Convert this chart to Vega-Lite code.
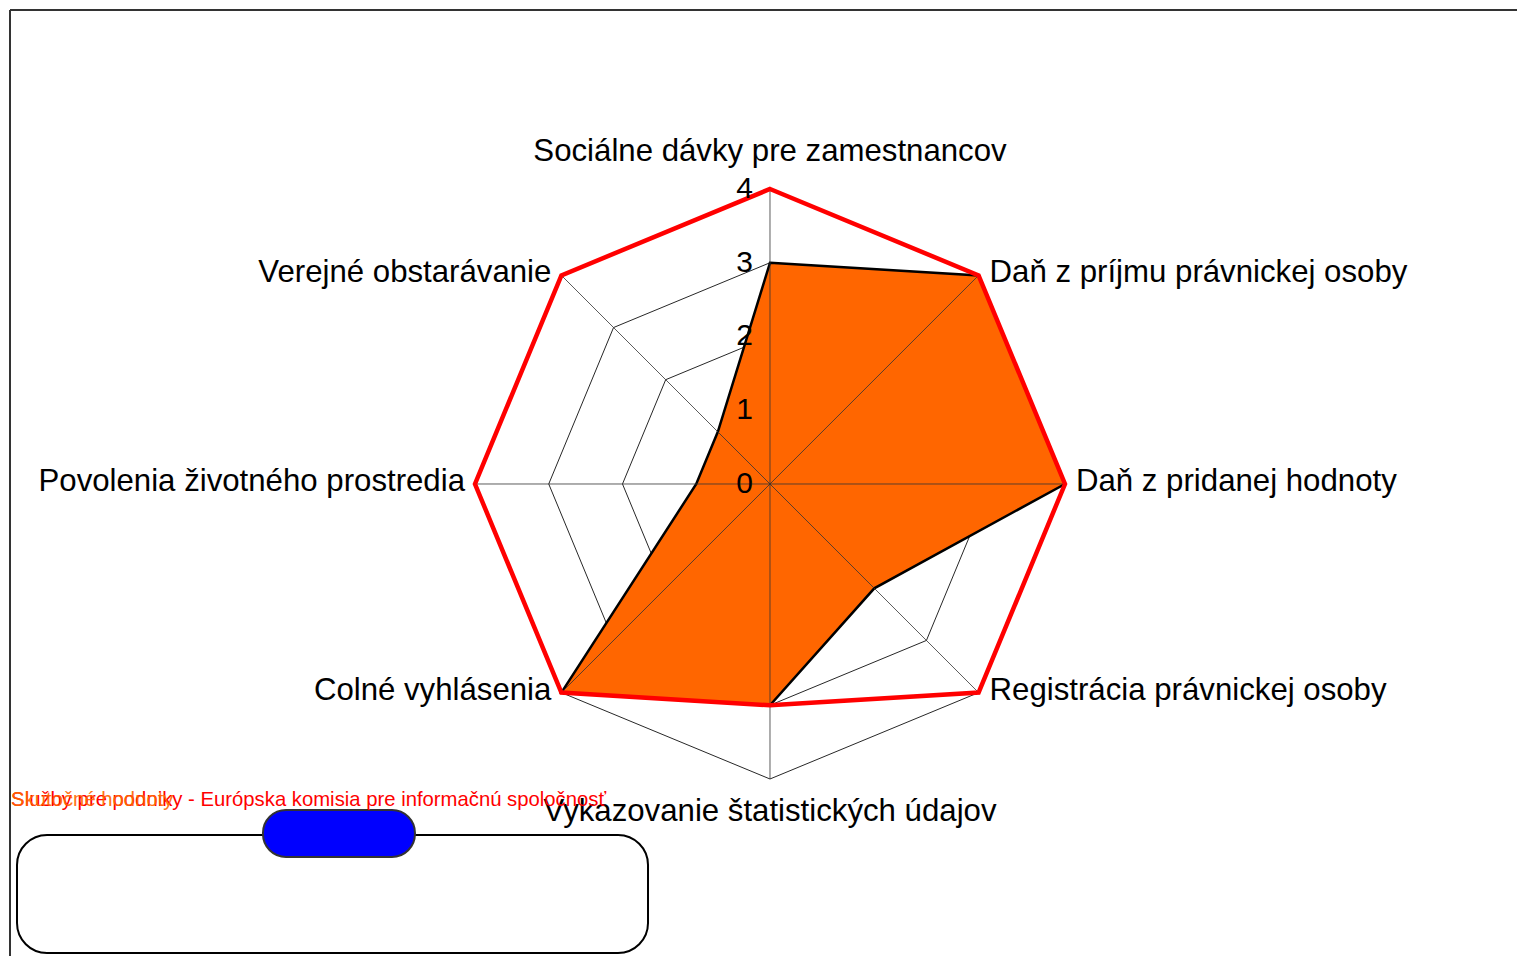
{
  "$schema": "https://vega.github.io/schema/vega-lite/v6.json",
  "width": 1507,
  "height": 946,
  "autosize": "none",
  "padding": {"left": 10, "top": 10, "right": 0, "bottom": 0},
  "background": "white",
  "config": {"view": {"stroke": null}, "font": "Liberation Sans"},
  "datasets": {
    "kategorie": [
      {"kategoria": "Sociálne dávky pre zamestnancov", "poradie": 0, "skutocnost": 3, "ciel": 4},
      {"kategoria": "Daň z príjmu právnickej osoby", "poradie": 1, "skutocnost": 4, "ciel": 4},
      {"kategoria": "Daň z pridanej hodnoty", "poradie": 2, "skutocnost": 4, "ciel": 4},
      {"kategoria": "Registrácia právnickej osoby", "poradie": 3, "skutocnost": 2, "ciel": 4},
      {"kategoria": "Vykazovanie štatistických údajov", "poradie": 4, "skutocnost": 3, "ciel": 3},
      {"kategoria": "Colné vyhlásenia", "poradie": 5, "skutocnost": 4, "ciel": 4},
      {"kategoria": "Povolenia životného prostredia", "poradie": 6, "skutocnost": 1, "ciel": 4},
      {"kategoria": "Verejné obstarávanie", "poradie": 7, "skutocnost": 1, "ciel": 4}
    ],
    "mriezka": [
      {"poradie": 0, "uroven": 1}, {"poradie": 1, "uroven": 1}, {"poradie": 2, "uroven": 1}, {"poradie": 3, "uroven": 1},
      {"poradie": 4, "uroven": 1}, {"poradie": 5, "uroven": 1}, {"poradie": 6, "uroven": 1}, {"poradie": 7, "uroven": 1},
      {"poradie": 0, "uroven": 2}, {"poradie": 1, "uroven": 2}, {"poradie": 2, "uroven": 2}, {"poradie": 3, "uroven": 2},
      {"poradie": 4, "uroven": 2}, {"poradie": 5, "uroven": 2}, {"poradie": 6, "uroven": 2}, {"poradie": 7, "uroven": 2},
      {"poradie": 0, "uroven": 3}, {"poradie": 1, "uroven": 3}, {"poradie": 2, "uroven": 3}, {"poradie": 3, "uroven": 3},
      {"poradie": 4, "uroven": 3}, {"poradie": 5, "uroven": 3}, {"poradie": 6, "uroven": 3}, {"poradie": 7, "uroven": 3},
      {"poradie": 0, "uroven": 4}, {"poradie": 1, "uroven": 4}, {"poradie": 2, "uroven": 4}, {"poradie": 3, "uroven": 4},
      {"poradie": 4, "uroven": 4}, {"poradie": 5, "uroven": 4}, {"poradie": 6, "uroven": 4}, {"poradie": 7, "uroven": 4}
    ],
    "stupnica": [{"uroven": 0}, {"uroven": 1}, {"uroven": 2}, {"uroven": 3}, {"uroven": 4}]
  },
  "layer": [
    {
      "data": {"values": [{}]},
      "mark": {"type": "rule", "stroke": "#333333", "strokeWidth": 2},
      "encoding": {
        "x": {"datum": -10.305, "type": "quantitative", "scale": {"domain": [-10.305, 10.129], "nice": false, "zero": false}, "axis": null},
        "y": {"datum": 6.427, "type": "quantitative", "scale": {"domain": [-6.4, 6.427], "nice": false, "zero": false}, "axis": null},
        "y2": {"datum": -6.4}
      }
    },
    {
      "data": {"values": [{}]},
      "mark": {"type": "rule", "stroke": "#333333", "strokeWidth": 2},
      "encoding": {
        "x": {"datum": -10.305, "type": "quantitative", "scale": {"domain": [-10.305, 10.129], "nice": false, "zero": false}, "axis": null},
        "x2": {"datum": 10.129},
        "y": {"datum": 6.427, "type": "quantitative", "scale": {"domain": [-6.4, 6.427], "nice": false, "zero": false}, "axis": null}
      }
    },
    {
      "data": {"name": "mriezka"},
      "transform": [
        {"calculate": "datum.poradie * PI / 4", "as": "a1"},
        {"calculate": "(datum.poradie + 1) * PI / 4", "as": "a2"},
        {"calculate": "datum.uroven * sin(datum.a1)", "as": "gx"},
        {"calculate": "datum.uroven * cos(datum.a1)", "as": "gy"},
        {"calculate": "datum.uroven * sin(datum.a2)", "as": "gx2"},
        {"calculate": "datum.uroven * cos(datum.a2)", "as": "gy2"}
      ],
      "mark": {"type": "rule", "stroke": "#000000", "strokeWidth": 1, "opacity": 0.85},
      "encoding": {
        "x": {"field": "gx", "type": "quantitative", "scale": {"domain": [-10.305, 10.129], "nice": false, "zero": false}, "axis": null},
        "y": {"field": "gy", "type": "quantitative", "scale": {"domain": [-6.4, 6.427], "nice": false, "zero": false}, "axis": null},
        "x2": {"field": "gx2"},
        "y2": {"field": "gy2"}
      }
    },
    {
      "data": {"name": "kategorie"},
      "transform": [
        {"calculate": "datum.poradie * PI / 4", "as": "uhol"},
        {"calculate": "datum.skutocnost * sin(datum.uhol)", "as": "px"},
        {"calculate": "datum.skutocnost * cos(datum.uhol)", "as": "py"}
      ],
      "mark": {"type": "line", "interpolate": "linear-closed", "fill": "#FF6600", "stroke": "#000000", "strokeWidth": 2.5, "strokeJoin": "miter"},
      "encoding": {
        "x": {"field": "px", "type": "quantitative", "scale": {"domain": [-10.305, 10.129], "nice": false, "zero": false}, "axis": null},
        "y": {"field": "py", "type": "quantitative", "scale": {"domain": [-6.4, 6.427], "nice": false, "zero": false}, "axis": null},
        "order": {"field": "poradie", "type": "quantitative"}
      }
    },
    {
      "data": {"name": "kategorie"},
      "transform": [
        {"calculate": "datum.poradie * PI / 4", "as": "uhol"},
        {"calculate": "4 * sin(datum.uhol)", "as": "sx"},
        {"calculate": "4 * cos(datum.uhol)", "as": "sy"}
      ],
      "mark": {"type": "rule", "stroke": "#333333", "strokeWidth": 1, "opacity": 0.8},
      "encoding": {
        "x": {"field": "sx", "type": "quantitative", "scale": {"domain": [-10.305, 10.129], "nice": false, "zero": false}, "axis": null},
        "y": {"field": "sy", "type": "quantitative", "scale": {"domain": [-6.4, 6.427], "nice": false, "zero": false}, "axis": null},
        "x2": {"datum": 0},
        "y2": {"datum": 0}
      }
    },
    {
      "data": {"name": "kategorie"},
      "transform": [
        {"calculate": "datum.poradie * PI / 4", "as": "uhol"},
        {"calculate": "datum.ciel * sin(datum.uhol)", "as": "cx"},
        {"calculate": "datum.ciel * cos(datum.uhol)", "as": "cy"}
      ],
      "mark": {"type": "line", "interpolate": "linear-closed", "stroke": "#FF0000", "strokeWidth": 4.5, "strokeJoin": "miter"},
      "encoding": {
        "x": {"field": "cx", "type": "quantitative", "scale": {"domain": [-10.305, 10.129], "nice": false, "zero": false}, "axis": null},
        "y": {"field": "cy", "type": "quantitative", "scale": {"domain": [-6.4, 6.427], "nice": false, "zero": false}, "axis": null},
        "order": {"field": "poradie", "type": "quantitative"}
      }
    },
    {
      "data": {"name": "stupnica"},
      "mark": {"type": "text", "align": "right", "baseline": "middle", "dx": -17, "fontSize": 30, "color": "#000000"},
      "encoding": {
        "x": {"datum": 0, "type": "quantitative", "scale": {"domain": [-10.305, 10.129], "nice": false, "zero": false}, "axis": null},
        "y": {"field": "uroven", "type": "quantitative", "scale": {"domain": [-6.4, 6.427], "nice": false, "zero": false}, "axis": null},
        "text": {"field": "uroven", "type": "quantitative"}
      }
    },
    {
      "data": {"name": "kategorie"},
      "transform": [
        {"filter": "datum.poradie == 0"},
        {"calculate": "0", "as": "lx"},
        {"calculate": "4", "as": "ly"}
      ],
      "mark": {"type": "text", "align": "center", "baseline": "alphabetic", "dy": -28, "fontSize": 31.2, "color": "#000000"},
      "encoding": {
        "x": {"field": "lx", "type": "quantitative", "scale": {"domain": [-10.305, 10.129], "nice": false, "zero": false}, "axis": null},
        "y": {"field": "ly", "type": "quantitative", "scale": {"domain": [-6.4, 6.427], "nice": false, "zero": false}, "axis": null},
        "text": {"field": "kategoria"}
      }
    },
    {
      "data": {"name": "kategorie"},
      "transform": [
        {"filter": "datum.poradie == 4"},
        {"calculate": "0", "as": "lx"},
        {"calculate": "-4", "as": "ly"}
      ],
      "mark": {"type": "text", "align": "center", "baseline": "alphabetic", "dy": 42, "fontSize": 31.2, "color": "#000000"},
      "encoding": {
        "x": {"field": "lx", "type": "quantitative", "scale": {"domain": [-10.305, 10.129], "nice": false, "zero": false}, "axis": null},
        "y": {"field": "ly", "type": "quantitative", "scale": {"domain": [-6.4, 6.427], "nice": false, "zero": false}, "axis": null},
        "text": {"field": "kategoria"}
      }
    },
    {
      "data": {"name": "kategorie"},
      "transform": [
        {"filter": "datum.poradie >= 1 && datum.poradie <= 3"},
        {"calculate": "datum.poradie * PI / 4", "as": "uhol"},
        {"calculate": "4 * sin(datum.uhol)", "as": "lx"},
        {"calculate": "4 * cos(datum.uhol)", "as": "ly"}
      ],
      "mark": {"type": "text", "align": "left", "baseline": "middle", "dx": 11, "dy": -2, "fontSize": 31.2, "color": "#000000"},
      "encoding": {
        "x": {"field": "lx", "type": "quantitative", "scale": {"domain": [-10.305, 10.129], "nice": false, "zero": false}, "axis": null},
        "y": {"field": "ly", "type": "quantitative", "scale": {"domain": [-6.4, 6.427], "nice": false, "zero": false}, "axis": null},
        "text": {"field": "kategoria"}
      }
    },
    {
      "data": {"name": "kategorie"},
      "transform": [
        {"filter": "datum.poradie >= 5"},
        {"calculate": "datum.poradie * PI / 4", "as": "uhol"},
        {"calculate": "4 * sin(datum.uhol)", "as": "lx"},
        {"calculate": "4 * cos(datum.uhol)", "as": "ly"}
      ],
      "mark": {"type": "text", "align": "right", "baseline": "middle", "dx": -10, "dy": -2, "fontSize": 31.2, "color": "#000000"},
      "encoding": {
        "x": {"field": "lx", "type": "quantitative", "scale": {"domain": [-10.305, 10.129], "nice": false, "zero": false}, "axis": null},
        "y": {"field": "ly", "type": "quantitative", "scale": {"domain": [-6.4, 6.427], "nice": false, "zero": false}, "axis": null},
        "text": {"field": "kategoria"}
      }
    },
    {
      "data": {"values": [{}]},
      "mark": {"type": "rect", "fill": "transparent", "stroke": "#000000", "strokeWidth": 2, "cornerRadius": 30},
      "encoding": {
        "x": {"datum": -10.21, "type": "quantitative", "scale": {"domain": [-10.305, 10.129], "nice": false, "zero": false}, "axis": null},
        "x2": {"datum": -1.654},
        "y": {"datum": -4.759, "type": "quantitative", "scale": {"domain": [-6.4, 6.427], "nice": false, "zero": false}, "axis": null},
        "y2": {"datum": -6.359}
      }
    },
    {
      "data": {"values": [{}]},
      "mark": {"type": "rect", "fill": "#0000FF", "stroke": "#333333", "strokeWidth": 2, "cornerRadius": 23},
      "encoding": {
        "x": {"datum": -6.875, "type": "quantitative", "scale": {"domain": [-10.305, 10.129], "nice": false, "zero": false}, "axis": null},
        "x2": {"datum": -4.814},
        "y": {"datum": -4.42, "type": "quantitative", "scale": {"domain": [-6.4, 6.427], "nice": false, "zero": false}, "axis": null},
        "y2": {"datum": -5.058}
      }
    },
    {
      "data": {"values": [{"popis": "Služby pre podniky - Európska komisia pre informačnú spoločnosť"}]},
      "mark": {"type": "text", "align": "left", "baseline": "alphabetic", "fontSize": 20.3, "color": "#FF0000"},
      "encoding": {
        "x": {"datum": -10.29, "type": "quantitative", "scale": {"domain": [-10.305, 10.129], "nice": false, "zero": false}, "axis": null},
        "y": {"datum": -4.366, "type": "quantitative", "scale": {"domain": [-6.4, 6.427], "nice": false, "zero": false}, "axis": null},
        "text": {"field": "popis"}
      }
    },
    {
      "data": {"values": [{"popis": "Skutočné hodnoty"}]},
      "mark": {"type": "text", "align": "left", "baseline": "alphabetic", "fontSize": 20.3, "color": "#FF6600", "opacity": 0.9},
      "encoding": {
        "x": {"datum": -10.29, "type": "quantitative", "scale": {"domain": [-10.305, 10.129], "nice": false, "zero": false}, "axis": null},
        "y": {"datum": -4.366, "type": "quantitative", "scale": {"domain": [-6.4, 6.427], "nice": false, "zero": false}, "axis": null},
        "text": {"field": "popis"}
      }
    }
  ]
}
